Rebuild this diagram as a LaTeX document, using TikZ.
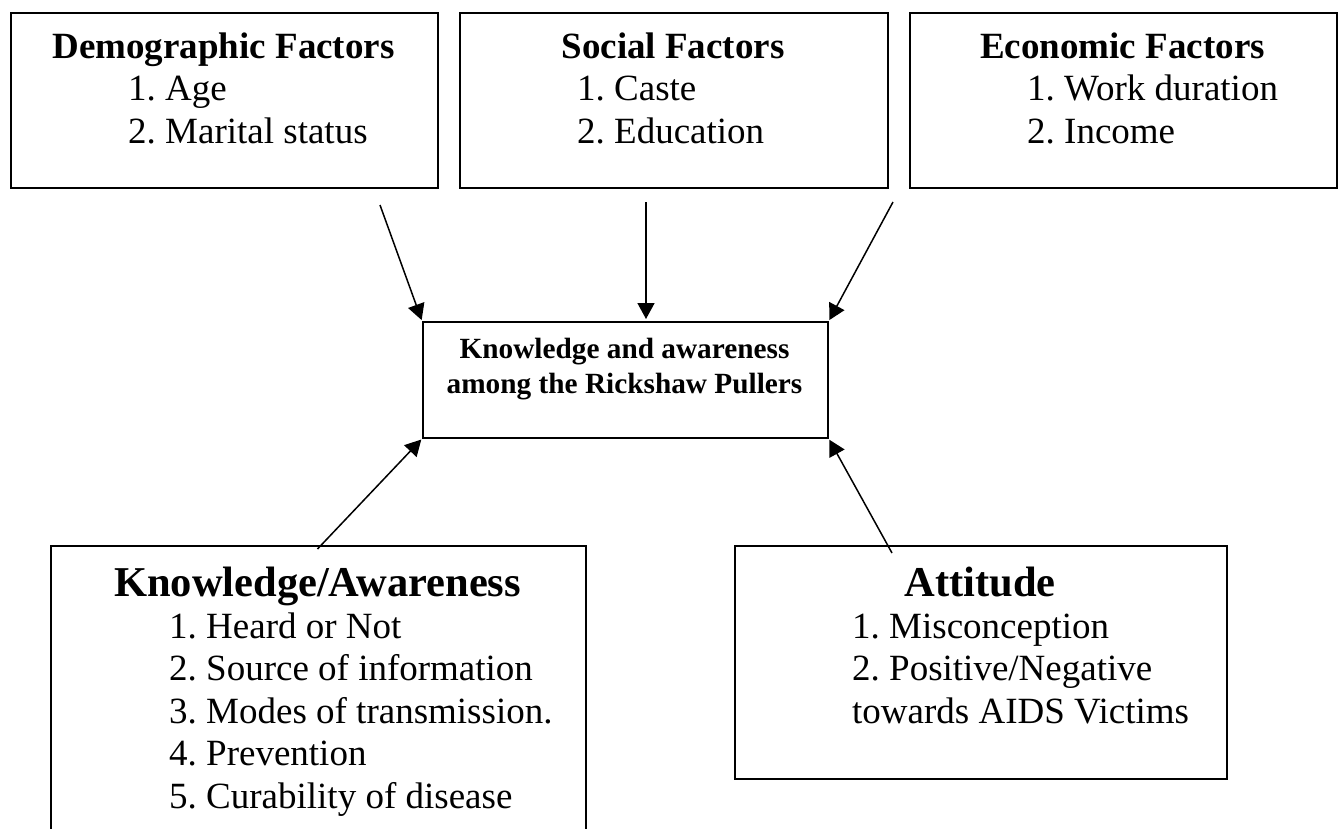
\documentclass[tikz,border=0pt]{standalone}
\usepackage{fontspec}
\setmainfont{Liberation Serif}
\usetikzlibrary{arrows.meta}
\frenchspacing
\begin{document}
\begin{tikzpicture}[x=1pt,y=-1pt,
  box/.style={draw, line width=1.8pt, inner sep=0pt, anchor=north west},
  head/.style={font=\fontsize{37}{43}\selectfont\bfseries, anchor=base, inner sep=0pt},
  bighead/.style={font=\fontsize{42.5}{48}\selectfont\bfseries, anchor=base, inner sep=0pt},
  item/.style={font=\fontsize{37}{43}\selectfont, anchor=base west, inner sep=0pt},
  midtext/.style={font=\fontsize{29.3}{35}\selectfont\bfseries, anchor=base, inner sep=0pt},
  link/.style={line width=1.5pt, -{Triangle[length=16pt,width=17pt]}}]
\clip (0,0) rectangle (1342,828);
\fill[white] (0,0) rectangle (1342,828);

% boxes
\node[box, minimum width=427pt, minimum height=175pt] (demo) at (10,12) {};
\node[box, minimum width=428pt, minimum height=175pt] (soc) at (459,12) {};
\node[box, minimum width=427pt, minimum height=175pt] (eco) at (909,12) {};
\node[box, minimum width=405pt, minimum height=116pt] (mid) at (422,321) {};
\node[box, minimum width=535pt, minimum height=320pt] (know) at (50,545) {};
\node[box, minimum width=492pt, minimum height=233pt] (att) at (734,545) {};

% texts
\node[head] (demoT) at (223.5,58) {Demographic Factors};
\node[item] (demo1) at (128,100) {1. Age};
\node[item] (demo2) at (128,143) {2. Marital status};

\node[head] (socT) at (673,58) {Social Factors};
\node[item] (soc1) at (577,100) {1. Caste};
\node[item] (soc2) at (577,143) {2. Education};

\node[head] (ecoT) at (1122.5,58) {Economic Factors};
\node[item] (eco1) at (1027,100) {1. Work duration};
\node[item] (eco2) at (1027,143) {2. Income};

\node[midtext] (mid1) at (624.5,358) {Knowledge and awareness};
\node[midtext] (mid2) at (624.5,393) {among the Rickshaw Pullers};

\node[bighead] (knowT) at (317.5,596) {Knowledge/Awareness};
\node[item] (know1) at (169,638) {1. Heard or Not};
\node[item] (know2) at (169,680.5) {2. Source of information};
\node[item] (know3) at (169,723) {3. Modes of transmission.};
\node[item] (know4) at (169,765.5) {4. Prevention};
\node[item] (know5) at (169,808) {5. Curability of disease};

\node[bighead] (attT) at (980,596) {Attitude};
\node[item] (att1) at (852,638) {1. Misconception};
\node[item] (att2) at (852,680.5) {2. Positive/Negative};
\node[item] (att3) at (852,723) {towards AIDS Victims};

% connectors
\coordinate (s1) at (380,205);
\coordinate (s2) at (646,202);
\coordinate (s3) at (893,202);
\coordinate (s4) at (317.5,549);
\coordinate (s5) at (892,553);
\draw[link, shorten >=1pt] (s1) -- (mid.north west);
\draw[link, shorten >=2pt] (s2) -- (s2 |- mid.north);
\draw[link, shorten >=1pt] (s3) -- (mid.north east);
\draw[link, shorten >=1pt] (s4) -- (mid.south west);
\draw[link, shorten >=1pt] (s5) -- (mid.south east);
\end{tikzpicture}
\end{document}
